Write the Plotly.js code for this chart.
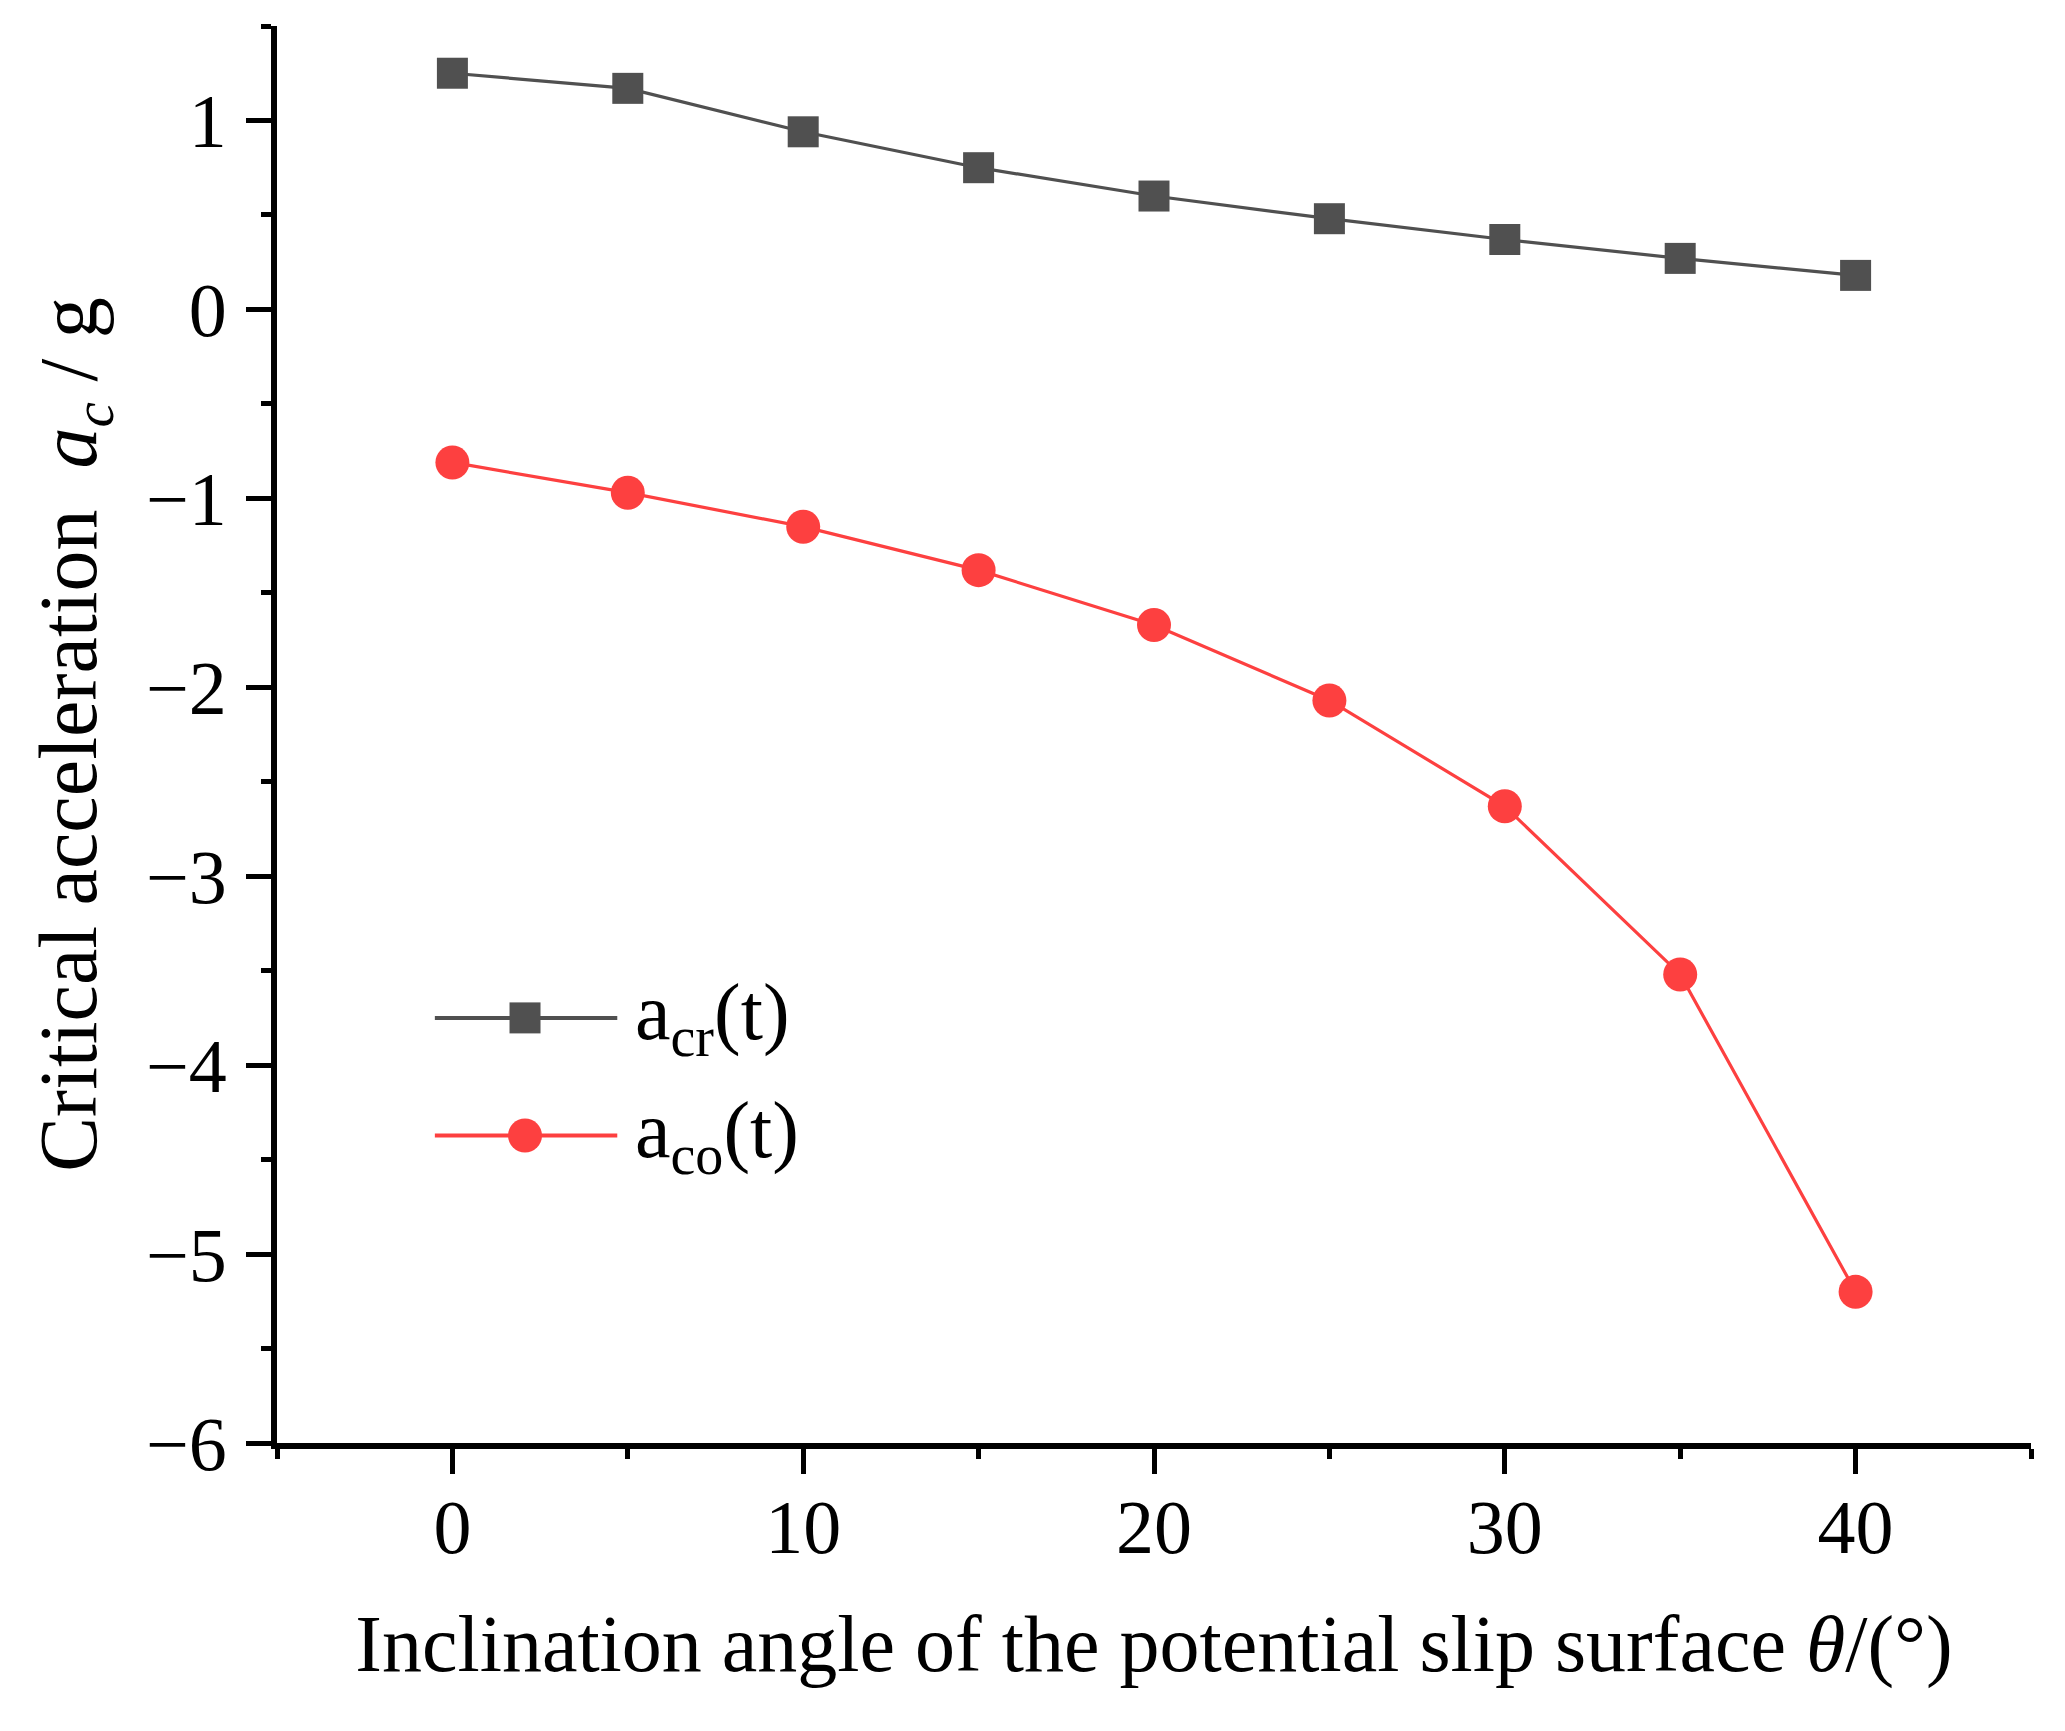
<!DOCTYPE html>
<html>
<head>
<meta charset="utf-8">
<script src="https://cdn.plot.ly/plotly-3.0.1.min.js"></script>
<style>
  html, body { margin: 0; padding: 0; background: #fff; }
  #chart { width: 2065px; height: 1731px; }
</style>
</head>
<body>
<div id="chart"></div>
<script>
// inclination angle θ (deg)
const theta = [0, 5, 10, 15, 20, 25, 30, 35, 40];
// critical accelerations, in g
const acr = [1.25, 1.17, 0.94, 0.75, 0.60, 0.48, 0.37, 0.27, 0.18];
const aco = [-0.81, -0.97, -1.15, -1.38, -1.67, -2.07, -2.63, -3.52, -5.2];

const seriesNames = ['a<sub>cr</sub>(t)', 'a<sub>co</sub>(t)'];
const seriesColors = ['#505050', '#fd4040'];
const seriesSymbols = ['square', 'circle'];

const xTicks = [0, 10, 20, 30, 40];
const yTicks = [-6, -5, -4, -3, -2, -1, 0, 1];

const FONT = '"Liberation Serif", "Times New Roman", serif';
const markerSize = [31, 34];

const traces = [acr, aco].map((ys, i) => ({
  type: 'scatter', mode: 'lines+markers',
  x: theta, y: ys, name: seriesNames[i],
  line: { color: seriesColors[i], width: 3.2 },
  marker: { color: seriesColors[i], symbol: seriesSymbols[i], size: markerSize[i] },
  showlegend: false, cliponaxis: false
}));

// hand-drawn legend so the key line matches the original length
const legX0 = 0.090, legX1 = 0.194, legXm = 0.1414, legTextX = 0.203;
const legY = [0.300, 0.217];
const shapes = [];
const annotations = [];
legY.forEach((yy, i) => {
  const h = markerSize[i] / 2;
  shapes.push({ type: 'line', xref: 'paper', yref: 'paper', x0: legX0, x1: legX1, y0: yy, y1: yy,
    line: { color: seriesColors[i], width: 4 } });
  shapes.push({ type: seriesSymbols[i] === 'square' ? 'rect' : 'circle',
    xref: 'paper', yref: 'paper', xsizemode: 'pixel', ysizemode: 'pixel',
    xanchor: legXm, yanchor: yy, x0: -h, x1: h, y0: -h, y1: h,
    fillcolor: seriesColors[i], line: { width: 0 } });
  annotations.push({ xref: 'paper', yref: 'paper', x: legTextX, y: yy, xanchor: 'left', yanchor: 'middle',
    text: seriesNames[i], showarrow: false, font: { family: FONT, size: 80, color: '#000' } });
});

const axisCommon = {
  showline: true, linecolor: '#000', linewidth: 6, mirror: false,
  showgrid: false, zeroline: false,
  ticks: 'outside', ticklen: 25, tickwidth: 5, tickcolor: '#000',
  tickfont: { family: FONT, size: 76, color: '#000' }
};

const layout = {
  width: 2065, height: 1731,
  paper_bgcolor: '#fff', plot_bgcolor: '#fff',
  margin: { l: 277, r: 34, t: 26, b: 288 },
  font: { family: FONT, color: '#000' },
  showlegend: false,
  xaxis: Object.assign({}, axisCommon, {
    range: [-5, 45], tickvals: xTicks, ticktext: xTicks.map(String),
    minor: { dtick: 5, tick0: 0, ticks: 'outside', ticklen: 10, tickwidth: 5, tickcolor: '#000' },
    ticklabelstandoff: -12,
    title: { text: 'Inclination angle of the potential slip surface <i>θ</i>/(°)',
      font: { family: FONT, size: 80, color: '#000' }, standoff: 49 }
  }),
  yaxis: Object.assign({}, axisCommon, {
    range: [-6, 1.5], tickvals: yTicks,
    minor: { dtick: 0.5, tick0: 0, ticks: 'outside', ticklen: 10, tickwidth: 5, tickcolor: '#000' },
    ticklabelstandoff: 4,
    title: { text: 'Critical acceleration  <i>a<sub>c</sub></i> / g',
      font: { family: FONT, size: 82, color: '#000' }, standoff: 24 }
  }),
  shapes, annotations
};

Plotly.newPlot('chart', traces, layout, { displayModeBar: false, staticPlot: true });
</script>
</body>
</html>
